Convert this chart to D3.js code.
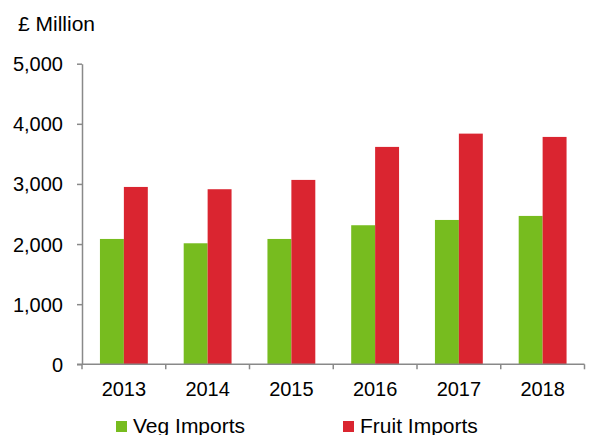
<!DOCTYPE html>
<html><head><meta charset="utf-8">
<script src="https://cdn.jsdelivr.net/npm/d3@7"></script>
<style>body{margin:0;background:#fff}svg{display:block}text{font-family:"Liberation Sans",Arial,sans-serif;fill:#000}</style>
</head><body>
<svg id="c" width="597" height="435"></svg>
<script>
const years = ["2013","2014","2015","2016","2017","2018"];
const vegImports = [2085, 2013, 2085, 2313, 2401, 2468];
const fruitImports = [2950, 2912, 3067, 3616, 3837, 3782];
const seriesNames = ["Veg Imports", "Fruit Imports"];
const yTicks = [0, 1000, 2000, 3000, 4000, 5000];
const colors = ["#77BC1F", "#DA2530"];

(function(){
const svg = d3.select("#c");
const mLeft = 82, mRight = 584.5, mTop = 63.7, mBottom = 364.3;
const x = d3.scaleBand().domain(years).range([mLeft, mRight]).paddingInner(0).paddingOuter(0);
const y = d3.scaleLinear().domain([0, 5000]).range([mBottom, mTop]);
const barW = x.bandwidth() / 3.5;
const off = barW * 0.75;

const data = [vegImports, fruitImports];
data.forEach((vals, si) => {
  svg.append("g").selectAll("rect").data(vals).join("rect")
    .attr("x", (d, i) => x(years[i]) + off + si * barW)
    .attr("y", d => y(d))
    .attr("width", barW)
    .attr("height", d => y(0) - y(d))
    .attr("fill", colors[si]);
});

const axisColor = "#898989";
const ya = svg.append("g").attr("transform", `translate(${mLeft},0)`)
  .call(d3.axisLeft(y).tickValues(yTicks).tickSize(5).tickSizeOuter(0).tickPadding(14).tickFormat(d3.format(",")));
ya.select(".domain").attr("stroke", axisColor).attr("stroke-width", 1.5);
ya.selectAll(".tick line").attr("stroke", axisColor).attr("stroke-width", 1.5);
ya.selectAll(".tick text").style("font-size", "20px").attr("dy", "0.35em");

const xa = svg.append("g").attr("transform", `translate(0,${mBottom})`);
xa.append("line").attr("x1", mLeft - 5).attr("x2", mRight).attr("y1", 0).attr("y2", 0)
  .attr("stroke", axisColor).attr("stroke-width", 1.5);
const bounds = years.map(d => x(d)).concat([mRight]);
xa.selectAll("line.tk").data(bounds).join("line").attr("class", "tk")
  .attr("x1", d => d).attr("x2", d => d).attr("y1", 0).attr("y2", 5)
  .attr("stroke", axisColor).attr("stroke-width", 1.5);
xa.selectAll("text").data(years).join("text")
  .attr("x", d => x(d) + x.bandwidth() / 2).attr("y", 32)
  .attr("text-anchor", "middle").style("font-size", "20px").text(d => d);

svg.append("text").attr("x", 18).attr("y", 31).style("font-size", "21px").text("£ Million");

const legX = [116, 343];
seriesNames.forEach((n, i) => {
  svg.append("rect").attr("x", legX[i]).attr("y", 421).attr("width", 11).attr("height", 11).attr("fill", colors[i]);
  svg.append("text").attr("x", legX[i] + 17).attr("y", 433).style("font-size", "21px").text(n);
});
})();
</script>
</body></html>
